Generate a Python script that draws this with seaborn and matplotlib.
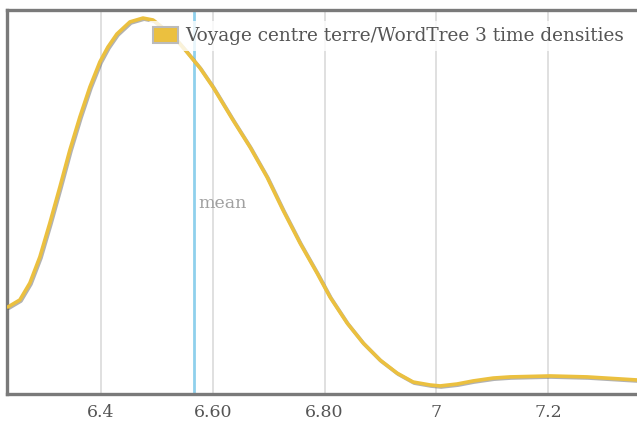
import numpy as np
import pandas as pd
import matplotlib
matplotlib.use("Agg")
import matplotlib.pyplot as plt
import matplotlib.patheffects as pe
from matplotlib.patches import Patch
import seaborn as sns

sns.set_theme(style="white")
plt.rcParams["font.family"] = ["DejaVu Serif"]

# density curve
time_values = [6.2336, 6.2550, 6.2729, 6.2908, 6.3087, 6.3266, 6.3445, 6.3624,
               6.3803, 6.3982, 6.4125, 6.4286, 6.4519, 6.4752, 6.4931, 6.5110,
               6.5324, 6.5539, 6.5772, 6.6004, 6.6362, 6.6667, 6.6971, 6.7257,
               6.7562, 6.7866, 6.8098, 6.8403, 6.8689, 6.8993, 6.9297, 6.9584,
               6.9888, 7.0067, 7.0371, 7.0658, 7.1016, 7.1320, 7.2036, 7.2698,
               7.3593]
density_values = [0.453, 0.490, 0.578, 0.714, 0.891, 1.078, 1.271, 1.443,
                  1.599, 1.730, 1.807, 1.875, 1.938, 1.958, 1.948, 1.906,
                  1.854, 1.781, 1.698, 1.599, 1.427, 1.286, 1.130, 0.958,
                  0.786, 0.630, 0.505, 0.370, 0.266, 0.177, 0.109, 0.0625,
                  0.047, 0.042, 0.052, 0.068, 0.083, 0.089, 0.094, 0.089,
                  0.073]
mean_value = 6.566

tick_positions = [6.4, 6.6, 6.8, 7.0, 7.2]
tick_labels = ["6.4", "6.60", "6.80", "7", "7.2"]

series_label = "Voyage centre terre/WordTree 3 time densities"

df = pd.DataFrame({"time": time_values, "density": density_values})

fig = plt.figure(figsize=(6.37, 4.23), dpi=100)
ax = fig.add_axes([7 / 637, 29 / 423, 1 - 7 / 637, 1 - 39 / 423])

# gridlines at ticks
for t in tick_positions:
    ax.axvline(t, color="#dddddd", lw=1.3, zorder=0)

ax.axvline(mean_value, color="#8fd0ec", lw=2.0, zorder=1)
ax.text(mean_value + 0.008, 0.99, "mean", color="#a0a0a0", fontsize=12.5,
        va="center", ha="left", zorder=1)

sns.lineplot(data=df, x="time", y="density", ax=ax, color="#ebc03f", lw=2.6,
             zorder=3,
             path_effects=[pe.SimpleLineShadow(offset=(0.8, -0.8),
                                               shadow_color="#555555", alpha=0.45),
                           pe.Normal()])

ax.set_xlim(6.232, 7.359)
ax.set_ylim(0, 2.0)
ax.set_xticks(tick_positions)
ax.set_xticklabels(tick_labels)
ax.set_yticks([])
ax.set_xlabel("")
ax.set_ylabel("")
ax.tick_params(axis="x", length=0, pad=7, labelsize=12.5, labelcolor="#555555")

for side in ["left", "top", "bottom"]:
    ax.spines[side].set_color("#7a7a7a")
    ax.spines[side].set_linewidth(2.4)
ax.spines["right"].set_visible(False)

handle = Patch(facecolor="#ebc03f", edgecolor="#bbbbbb", linewidth=1.5)
leg = ax.legend([handle], [series_label], loc="upper right",
                bbox_to_anchor=(1 - 7 / 630, 1 - 11 / 384), frameon=True,
                framealpha=0.8, edgecolor="none", fontsize=13.3,
                handlelength=1.35, handleheight=1.0, handletextpad=0.4,
                borderpad=0.3, borderaxespad=0.0)
leg.get_frame().set_facecolor("white")
for txt in leg.get_texts():
    txt.set_color("#555555")

fig.savefig("out.png", dpi=100)
